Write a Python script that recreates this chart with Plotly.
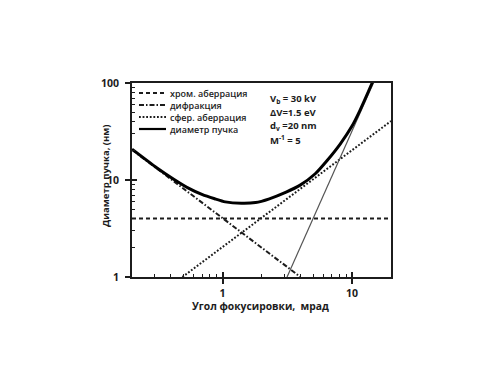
import plotly.graph_objects as go

# ---- data (mrad, nm) ----
chrom_alpha = [0.2, 20]
chrom_d = [4.0, 4.0]

diff_alpha = [0.2, 4.0]
diff_d = [20.5, 1.0]

sph_alpha = [0.49, 20]
sph_d = [1.0, 40.5]

steep_alpha = [3.15, 15.5]
steep_d = [1.0, 119]

beam_alpha = [0.2, 0.31, 0.42, 0.55, 0.7, 0.87, 1.05, 1.4, 1.8, 2.3, 3.1, 3.95,
              5.2, 6.4, 8.1, 10, 11.5, 14.3, 15.0]
beam_d = [20.8, 13.4, 10.2, 8.2, 7.05, 6.4, 5.95, 5.75, 5.85, 6.4, 7.5, 8.8,
          11.6, 15.8, 23.5, 36, 52, 100, 116]

legend_labels = ["хром. аберрация", "дифракция", "сфер. аберрация", "диаметр пучка"]
param_lines = ["V<sub>b</sub> = 30 kV", "ΔV=1.5 eV", "d<sub>v</sub> =20 nm", "M<sup>-1</sup> = 5"]
x_ticks = [1, 10]
y_ticks = [1, 10, 100]
x_minor = [0.3, 0.4, 0.5, 0.6, 0.7, 0.8, 0.9, 2, 3, 4, 5, 6, 7, 8, 9]
y_minor = [2, 3, 4, 5, 6, 7, 8, 9, 20, 30, 40, 50, 60, 70, 80, 90]

INK = "#1c1c1c"
FONT = "Open Sans"

# plot area geometry in screen pixels (page has an 8px body margin)
OFF = 8
L, R, T, B = 132, 391, 83, 277
W, H = 500, 375
pw, ph = R - L, B - T

def px(xp):
    return (xp - L) / pw

def py(yp):
    return (B - yp) / ph

styles = [
    dict(color=INK, width=2, dash="4px,3px"),
    dict(color=INK, width=2, dash="5px,2px,1.5px,2px"),
    dict(color=INK, width=2, dash="1.8px,1.8px"),
    dict(color="#000000", width=3, dash="solid"),
]

fig = go.Figure()
fig.add_trace(go.Scatter(x=chrom_alpha, y=chrom_d, mode="lines", line=styles[0],
                         showlegend=False, hoverinfo="skip"))
fig.add_trace(go.Scatter(x=diff_alpha, y=diff_d, mode="lines", line=styles[1],
                         showlegend=False, hoverinfo="skip"))
fig.add_trace(go.Scatter(x=sph_alpha, y=sph_d, mode="lines", line=styles[2],
                         showlegend=False, hoverinfo="skip"))
fig.add_trace(go.Scatter(x=steep_alpha, y=steep_d, mode="lines",
                         line=dict(color="#555555", width=1.2),
                         showlegend=False, hoverinfo="skip"))
fig.add_trace(go.Scatter(x=beam_alpha, y=beam_d, mode="lines", line_shape="spline",
                         line=dict(styles[3], smoothing=0.6),
                         showlegend=False, hoverinfo="skip"))
# invisible trace to carry the overlay axes (inner half of major ticks)
fig.add_trace(go.Scatter(x=[1], y=[1], xaxis="x2", yaxis="y2", mode="markers",
                         marker=dict(opacity=0), showlegend=False, hoverinfo="skip"))

tickfont = dict(family=FONT, size=10.5, color=INK, weight="bold")

fig.update_layout(
    width=W, height=H,
    margin=dict(l=L - OFF, r=W - (R - OFF), t=T - OFF, b=H - (B - OFF)),
    paper_bgcolor="white", plot_bgcolor="white",
    showlegend=False,
    xaxis=dict(type="log", range=[-0.699, 1.301], showgrid=False, zeroline=False,
               showline=True, linecolor=INK, linewidth=2, mirror=True,
               ticks="outside", ticklen=5, tickwidth=1.5, tickcolor=INK,
               tickmode="array", tickvals=x_ticks, ticktext=[str(v) for v in x_ticks],
               tickfont=tickfont,
               minor=dict(ticks="inside", ticklen=3, tickwidth=1.2, tickcolor=INK,
                          tickmode="array", tickvals=x_minor, showgrid=False)),
    yaxis=dict(type="log", range=[0, 2], showgrid=False, zeroline=False,
               showline=True, linecolor=INK, linewidth=2, mirror=True,
               ticks="outside", ticklen=5, tickwidth=1.5, tickcolor=INK,
               tickmode="array", tickvals=y_ticks, ticktext=[str(v) for v in y_ticks],
               tickfont=tickfont, ticklabelstandoff=4,
               minor=dict(ticks="inside", ticklen=3, tickwidth=1.2, tickcolor=INK,
                          tickmode="array", tickvals=y_minor, showgrid=False)),
    xaxis2=dict(type="log", range=[-0.699, 1.301], overlaying="x", anchor="y",
                showgrid=False, zeroline=False, showline=False,
                ticks="inside", ticklen=5, tickwidth=1.5, tickcolor=INK,
                tickmode="array", tickvals=x_ticks, showticklabels=False),
    yaxis2=dict(type="log", range=[0, 2], overlaying="y", anchor="x",
                showgrid=False, zeroline=False, showline=False,
                ticks="inside", ticklen=5, tickwidth=1.5, tickcolor=INK,
                tickmode="array", tickvals=y_ticks, showticklabels=False),
)

# axis titles
fig.add_annotation(text="Угол фокусировки,  мрад", xref="paper", yref="paper",
                   x=px(260), y=py(306), xanchor="center", yanchor="middle",
                   showarrow=False,
                   font=dict(family=FONT, size=10.3, color=INK, weight="bold"))
fig.add_annotation(text="Диаметр пучка, (нм)", xref="paper", yref="paper",
                   x=px(105), y=py(176), xanchor="center", yanchor="middle",
                   textangle=-90, showarrow=False,
                   font=dict(family=FONT, size=9.5, color=INK, weight="bold"))

# manual legend
rows = [93, 105, 117, 129]
for lab, st, yr in zip(legend_labels, styles, rows):
    fig.add_shape(type="line", xref="paper", yref="paper",
                  x0=px(139), x1=px(166), y0=py(yr), y1=py(yr),
                  line=dict(color=st["color"], width=min(st["width"], 2.2), dash=st["dash"]))
    fig.add_annotation(text=lab, xref="paper", yref="paper",
                       x=px(168), y=py(yr), xanchor="left", yanchor="middle",
                       showarrow=False,
                       font=dict(family=FONT, size=9, color=INK, weight=600))

# parameter block, one line per annotation
prow = [99, 112.5, 126, 140]
for txt, yr in zip(param_lines, prow):
    fig.add_annotation(text=txt, xref="paper", yref="paper",
                       x=px(268), y=py(yr), xanchor="left", yanchor="middle",
                       align="left", showarrow=False,
                       font=dict(family=FONT, size=9.5, color=INK, weight="bold"))

fig.write_html("out.html")
